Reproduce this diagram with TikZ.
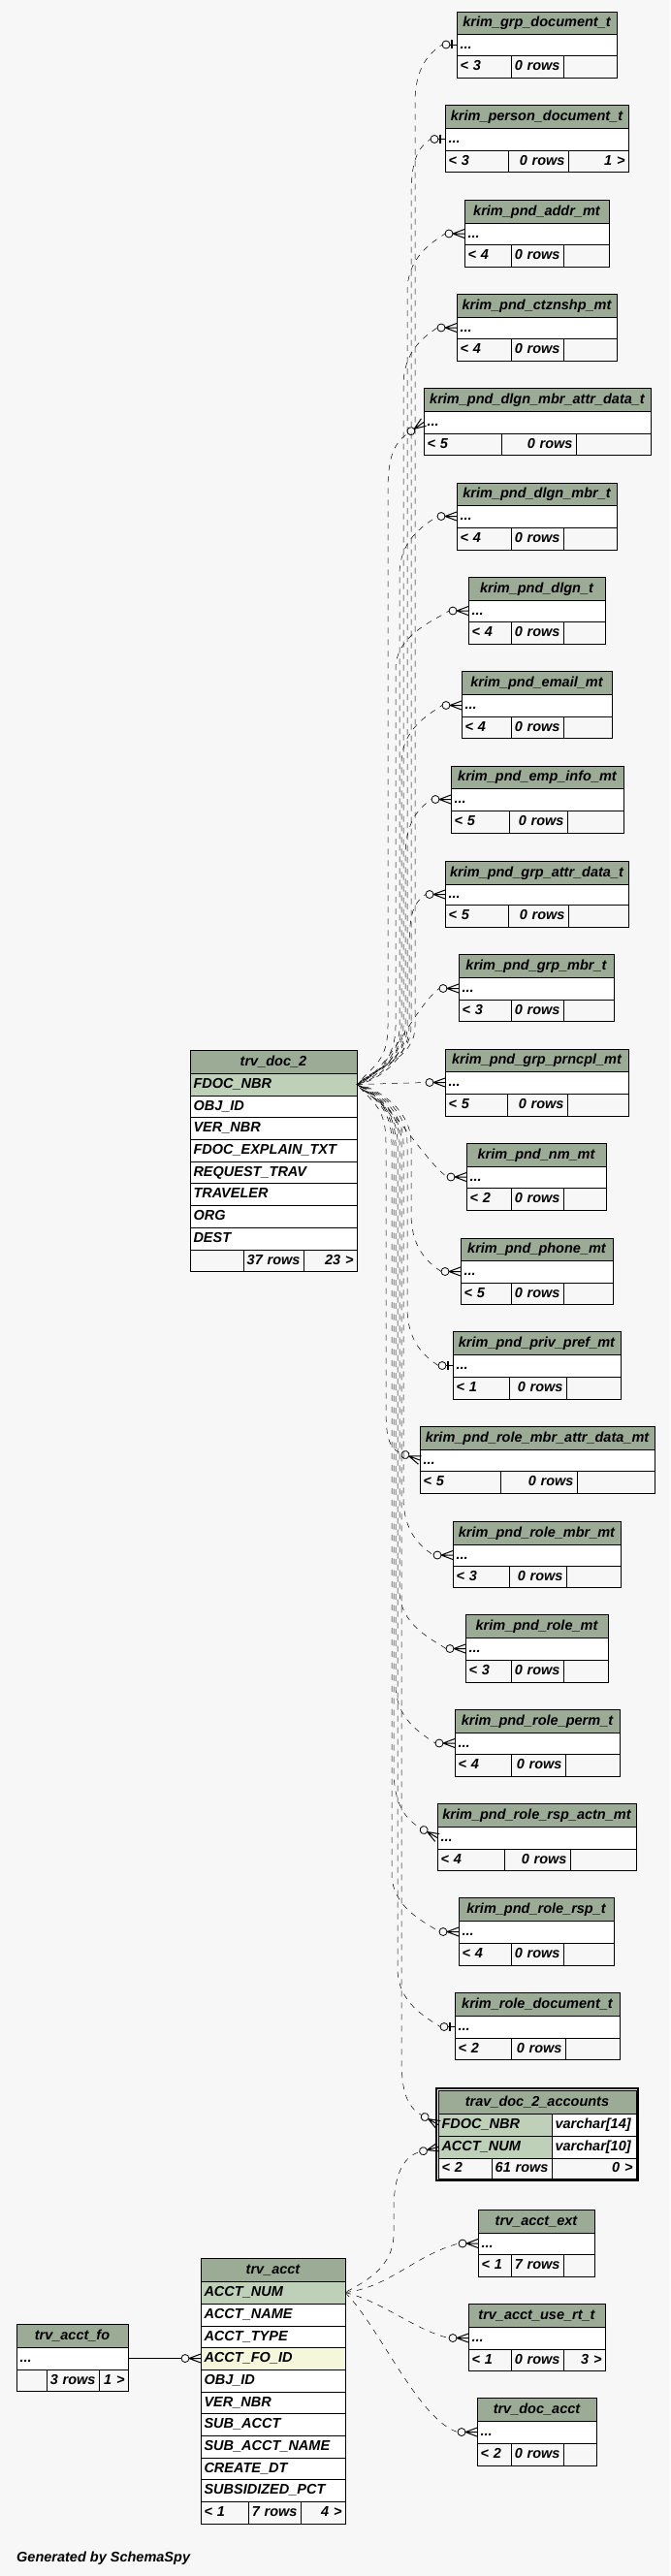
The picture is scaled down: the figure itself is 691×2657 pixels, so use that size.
\documentclass[tikz,border=0pt]{standalone}
\usepackage{fontspec}
\setmainfont{Liberation Sans}
\usetikzlibrary{calc}
\definecolor{bg}{HTML}{F7F7F7}
\definecolor{hdr}{HTML}{9BAB96}
\definecolor{pk}{HTML}{BED1B8}
\definecolor{fkc}{HTML}{F4F7DA}
\newcommand\tfont{\fontsize{14.5}{16}\selectfont\bfseries\itshape}
\tikzset{
 cellbox/.style={draw,line width=0.8pt,inner xsep=3.5pt,inner ysep=0pt,outer sep=0pt,anchor=north west,font=\tfont,text height=11pt,text depth=2.5pt},
 fkline/.style={draw,dash pattern=on 6pt off 6pt,line width=0.5pt},
 pics/crowf/.style={code={
   \draw[solid,line width=1pt] (-12pt,0pt) -- (0pt,4.5pt) (-12pt,0pt) -- (0pt,0pt) (-12pt,0pt) -- (0pt,-4.5pt);
   \draw[solid,line width=0.8pt] (-16pt,0pt) circle[radius=4pt];}},
 pics/onebar/.style={code={
   \draw[solid,line width=0.8pt] (-7pt,0pt) -- (0pt,0pt);
   \draw[solid,line width=2.4pt] (-5pt,-4.5pt) -- (-5pt,4.5pt);
   \draw[solid,line width=0.8pt] (-11pt,0pt) circle[radius=4pt];}}
}
\newcommand\tcell[8]{%
 \pgfmathsetmacro\cw{#5-#3}\pgfmathsetmacro\ch{#6-#4}\pgfmathsetmacro\tw{#5-#3-7}%
 \node[cellbox,#2,minimum width=\cw pt,minimum height=\ch pt,text width=\tw pt,align=#7] (#1) at (#3,#4) {#8};}
\newcommand\tgeo[8]{\def\gA{#1}\def\gB{#2}\def\gT{#3}\def\gH{#4}\def\gR{#5}\def\gZ{#6}\def\gC{#7}\def\gD{#8}}
\newcommand\stbl[5]{%
 \tcell{#1h}{fill=hdr}{\gA}{\gT}{\gB}{\gH}{center}{#2}%
 \tcell{#1r}{fill=white}{\gA}{\gH}{\gB}{\gR}{left}{...}%
 \tcell{#1a}{fill=bg}{\gA}{\gR}{\gC}{\gZ}{left}{#3}%
 \tcell{#1b}{fill=bg}{\gC}{\gR}{\gD}{\gZ}{right}{#4}%
 \tcell{#1c}{fill=bg}{\gD}{\gR}{\gB}{\gZ}{right}{#5}}
\newcommand\mkcrow[3]{\pic[rotate=#2] at (#1.west) {crowf}; \coordinate (#3) at ($(#1.west)+(180+#2:20pt)$);}
\newcommand\mkone[3]{\pic[rotate=#2] at (#1.west) {onebar}; \coordinate (#3) at ($(#1.west)+(180+#2:15pt)$);}
% #5 = slope of first control (pt)
\newcommand\fkup[5]{\draw[fkline,dash phase=#3pt] let \p1=(#1), \p2=(#2) in (\p1) .. controls (\x1+18pt,\y1+#5pt) and (#3pt,\y1+25pt) .. (#3pt,\y1+60pt) -- (#3pt,\y2-60pt) .. controls (#3pt,\y2-25pt) and ($(#2)+(#4+180:18pt)$) .. (\p2);}
\newcommand\fkdown[5]{\draw[fkline,dash phase=#5pt] let \p1=(#1), \p2=(#2) in (\p1) .. controls (\x1+18pt,\y1-#5pt) and (#3pt,\y1-25pt) .. (#3pt,\y1-60pt) -- (#3pt,\y2+60pt) .. controls (#3pt,\y2+25pt) and ($(#2)+(#4+180:18pt)$) .. (\p2);}
\begin{document}
\begin{tikzpicture}[x=1pt,y=-1pt]
\fill[bg] (0,0) rectangle (691,2657);
\useasboundingbox (0,0) rectangle (691,2657);
% right-hand tables
\tgeo{471}{636}{12}{35}{57}{80}{527}{581}\stbl{t1}{krim\_grp\_document\_t}{< 3}{0 rows}{}
\tgeo{459}{648}{108}{132}{155}{177}{524}{586}\stbl{t2}{krim\_person\_document\_t}{< 3}{0 rows}{1 >}
\tgeo{479}{628}{206}{230}{252}{275}{527}{581}\stbl{t3}{krim\_pnd\_addr\_mt}{< 4}{0 rows}{}
\tgeo{471}{636}{303}{327}{349}{372}{527}{581}\stbl{t4}{krim\_pnd\_ctznshp\_mt}{< 4}{0 rows}{}
\tgeo{437}{671}{400}{424}{447}{469}{517}{594}\stbl{t5}{krim\_pnd\_dlgn\_mbr\_attr\_data\_t}{< 5}{0 rows}{}
\tgeo{471}{636}{498}{521}{544}{567}{527}{581}\stbl{t6}{krim\_pnd\_dlgn\_mbr\_t}{< 4}{0 rows}{}
\tgeo{483}{624}{595}{619}{641}{664}{527}{581}\stbl{t7}{krim\_pnd\_dlgn\_t}{< 4}{0 rows}{}
\tgeo{476}{631}{692}{716}{739}{761}{527}{581}\stbl{t8}{krim\_pnd\_email\_mt}{< 4}{0 rows}{}
\tgeo{465}{643}{790}{813}{836}{859}{525}{585}\stbl{t9}{krim\_pnd\_emp\_info\_mt}{< 5}{0 rows}{}
\tgeo{459}{648}{888}{912}{933}{956}{524}{586}\stbl{t10}{krim\_pnd\_grp\_attr\_data\_t}{< 5}{0 rows}{}
\tgeo{473}{633}{984}{1008}{1031}{1053}{527}{581}\stbl{t11}{krim\_pnd\_grp\_mbr\_t}{< 3}{0 rows}{}
\tgeo{459}{648}{1082}{1105}{1128}{1151}{523}{585}\stbl{t12}{krim\_pnd\_grp\_prncpl\_mt}{< 5}{0 rows}{}
\tgeo{481}{625}{1179}{1203}{1225}{1248}{527}{581}\stbl{t13}{krim\_pnd\_nm\_mt}{< 2}{0 rows}{}
\tgeo{475}{632}{1277}{1300}{1323}{1345}{527}{581}\stbl{t14}{krim\_pnd\_phone\_mt}{< 5}{0 rows}{}
\tgeo{467}{640}{1373}{1397}{1420}{1443}{525}{584}\stbl{t15}{krim\_pnd\_priv\_pref\_mt}{< 1}{0 rows}{}
\tgeo{433}{675}{1471}{1495}{1517}{1540}{516}{595}\stbl{t16}{krim\_pnd\_role\_mbr\_attr\_data\_mt}{< 5}{0 rows}{}
\tgeo{467}{640}{1569}{1593}{1615}{1637}{525}{584}\stbl{t17}{krim\_pnd\_role\_mbr\_mt}{< 3}{0 rows}{}
\tgeo{480}{627}{1665}{1689}{1712}{1735}{527}{581}\stbl{t18}{krim\_pnd\_role\_mt}{< 3}{0 rows}{}
\tgeo{469}{639}{1763}{1787}{1809}{1832}{527}{583}\stbl{t19}{krim\_pnd\_role\_perm\_t}{< 4}{0 rows}{}
\tgeo{451}{656}{1860}{1884}{1907}{1929}{520}{588}\stbl{t20}{krim\_pnd\_role\_rsp\_actn\_mt}{< 4}{0 rows}{}
\tgeo{473}{633}{1957}{1981}{2004}{2027}{527}{581}\stbl{t21}{krim\_pnd\_role\_rsp\_t}{< 4}{0 rows}{}
\tgeo{469}{639}{2055}{2079}{2102}{2124}{527}{583}\stbl{t22}{krim\_role\_document\_t}{< 2}{0 rows}{}
\tgeo{493}{613}{2279}{2303}{2325}{2348}{527}{581}\stbl{t24}{trv\_acct\_ext}{< 1}{7 rows}{}
\tgeo{483}{624}{2376}{2400}{2423}{2445}{527}{581}\stbl{t25}{trv\_acct\_use\_rt\_t}{< 1}{0 rows}{3 >}
\tgeo{492}{615}{2473}{2497}{2520}{2543}{527}{581}\stbl{t26}{trv\_doc\_acct}{< 2}{0 rows}{}
\tgeo{17}{132}{2397}{2421}{2444}{2466}{48}{102}\stbl{fo}{trv\_acct\_fo}{}{3 rows}{1 >}
% trav_doc_2_accounts
\draw[line width=1.8pt] (450,2154) rectangle (658,2249);
\tcell{ach}{fill=hdr}{452}{2156}{656}{2180}{center}{trav\_doc\_2\_accounts}
\tcell{acfdoc}{fill=pk}{452}{2180}{569}{2203}{left}{FDOC\_NBR}
\tcell{acfdoct}{fill=white}{569}{2180}{656}{2203}{left}{varchar[14]}
\tcell{acacct}{fill=pk}{452}{2203}{569}{2226}{left}{ACCT\_NUM}
\tcell{acacctt}{fill=white}{569}{2203}{656}{2226}{left}{varchar[10]}
\tcell{aca}{fill=bg}{452}{2226}{507}{2247}{left}{< 2}
\tcell{acb}{fill=bg}{507}{2226}{569}{2247}{right}{61 rows}
\tcell{acc}{fill=bg}{569}{2226}{656}{2247}{right}{0 >}
% trv_doc_2
\tcell{tdh}{fill=hdr}{196}{1083}{368}{1107}{center}{trv\_doc\_2}
\tcell{tdfdoc}{fill=pk}{196}{1107}{368}{1130}{left}{FDOC\_NBR}
\tcell{td2}{fill=white}{196}{1130}{368}{1152}{left}{OBJ\_ID}
\tcell{td3}{fill=white}{196}{1152}{368}{1175}{left}{VER\_NBR}
\tcell{td4}{fill=white}{196}{1175}{368}{1198}{left}{FDOC\_EXPLAIN\_TXT}
\tcell{td5}{fill=white}{196}{1198}{368}{1220}{left}{REQUEST\_TRAV}
\tcell{td6}{fill=white}{196}{1220}{368}{1243}{left}{TRAVELER}
\tcell{td7}{fill=white}{196}{1243}{368}{1266}{left}{ORG}
\tcell{td8}{fill=white}{196}{1266}{368}{1289}{left}{DEST}
\tcell{tdfa}{fill=bg}{196}{1289}{251}{1311}{left}{}
\tcell{tdfb}{fill=bg}{251}{1289}{313}{1311}{right}{37 rows}
\tcell{tdfc}{fill=bg}{313}{1289}{368}{1311}{right}{23 >}
% trv_acct
\tcell{tah}{fill=hdr}{207}{2329}{356}{2353}{center}{trv\_acct}
\tcell{ta1}{fill=pk}{207}{2353}{356}{2376}{left}{ACCT\_NUM}
\tcell{ta2}{fill=white}{207}{2376}{356}{2399}{left}{ACCT\_NAME}
\tcell{ta3}{fill=white}{207}{2399}{356}{2421}{left}{ACCT\_TYPE}
\tcell{ta4}{fill=fkc}{207}{2421}{356}{2444}{left}{ACCT\_FO\_ID}
\tcell{ta5}{fill=white}{207}{2444}{356}{2467}{left}{OBJ\_ID}
\tcell{ta6}{fill=white}{207}{2467}{356}{2489}{left}{VER\_NBR}
\tcell{ta7}{fill=white}{207}{2489}{356}{2512}{left}{SUB\_ACCT}
\tcell{ta8}{fill=white}{207}{2512}{356}{2535}{left}{SUB\_ACCT\_NAME}
\tcell{ta9}{fill=white}{207}{2535}{356}{2557}{left}{CREATE\_DT}
\tcell{ta10}{fill=white}{207}{2557}{356}{2580}{left}{SUBSIDIZED\_PCT}
\tcell{tafa}{fill=bg}{207}{2580}{256}{2603}{left}{< 1}
\tcell{tafb}{fill=bg}{256}{2580}{310}{2603}{right}{7 rows}
\tcell{tafc}{fill=bg}{310}{2580}{356}{2603}{right}{4 >}
\node[font=\tfont,anchor=base west,inner sep=0pt] (gen) at (17,2642) {Generated by SchemaSpy};
% markers
\mkone{t1r}{0}{e1}
\mkone{t2r}{0}{e2}
\mkcrow{t3r}{0}{e3}
\mkcrow{t4r}{0}{e4}
\mkcrow{t5r}{35}{e5}
\mkcrow{t6r}{0}{e6}
\mkcrow{t7r}{0}{e7}
\mkcrow{t8r}{0}{e8}
\mkcrow{t9r}{0}{e9}
\mkcrow{t10r}{0}{e10}
\mkcrow{t11r}{0}{e11}
\mkcrow{t12r}{0}{e12}
\mkcrow{t13r}{0}{e13}
\mkcrow{t14r}{0}{e14}
\mkone{t15r}{0}{e15}
\mkcrow{t16r}{-20}{e16}
\mkcrow{t17r}{0}{e17}
\mkcrow{t18r}{0}{e18}
\mkcrow{t19r}{0}{e19}
\mkcrow{t20r}{-30}{e20}
\mkcrow{t21r}{0}{e21}
\mkone{t22r}{0}{e22}
\mkcrow{acfdoc}{-30}{e23}
\mkcrow{acacct}{15}{e23b}
\mkcrow{t24r}{0}{e24}
\mkcrow{t25r}{0}{e25}
\mkcrow{t26r}{0}{e26}
\mkcrow{ta4}{0}{efo}
% connectors from trv_doc_2
\fkup{tdfdoc.east}{e1}{428}{34}{18}
\fkup{tdfdoc.east}{e2}{424}{34}{16}
\fkup{tdfdoc.east}{e3}{420}{34}{14}
\fkup{tdfdoc.east}{e4}{416}{34}{12}
\fkup{tdfdoc.east}{e5}{400}{35}{20}
\fkup{tdfdoc.east}{e6}{412}{34}{10}
\fkup{tdfdoc.east}{e7}{408}{34}{8}
\fkup{tdfdoc.east}{e8}{414}{34}{6}
\fkup{tdfdoc.east}{e9}{418}{34}{4}
\fkup{tdfdoc.east}{e10}{422}{34}{2}
\draw[fkline,dash phase=3pt] (tdfdoc.east) .. controls +(35,-15) and +(-28,22) .. (e11);
\draw[fkline] (tdfdoc.east) -- (e12);
\draw[fkline,dash phase=7pt] (tdfdoc.east) .. controls +(35,15) and +(-28,-22) .. (e13);
\fkdown{tdfdoc.east}{e14}{424}{-34}{2}
\fkdown{tdfdoc.east}{e15}{420}{-34}{4}
\fkdown{tdfdoc.east}{e16}{398}{-20}{20}
\fkdown{tdfdoc.east}{e17}{416}{-34}{6}
\fkdown{tdfdoc.east}{e18}{412}{-34}{8}
\fkdown{tdfdoc.east}{e19}{408}{-34}{10}
\fkdown{tdfdoc.east}{e20}{406}{-30}{12}
\fkdown{tdfdoc.east}{e21}{404}{-34}{14}
\fkdown{tdfdoc.east}{e22}{410}{-34}{16}
\fkdown{tdfdoc.east}{e23}{414}{-30}{18}
% connectors from trv_acct
\fkup{ta1.east}{e23b}{406}{15}{10}
\draw[fkline] (ta1.east) .. controls +(45,-5) and +(-45,12) .. (e24);
\draw[fkline] (ta1.east) .. controls +(40,10) and +(-35,-8) .. (e25);
\draw[fkline] (ta1.east) .. controls +(35,35) and +(-40,-12) .. (e26);
\draw[line width=0.8pt] (for.east) -- (efo);
\end{tikzpicture}
\end{document}
